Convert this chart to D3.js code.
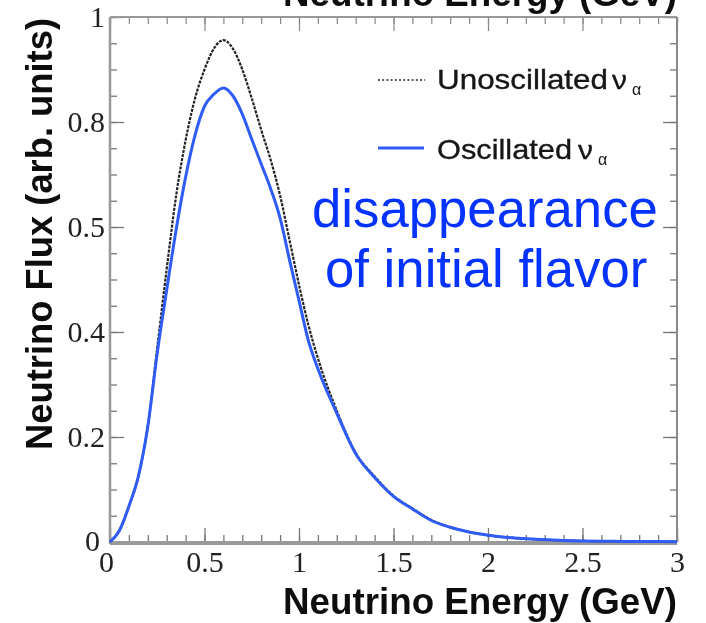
<!DOCTYPE html>
<html>
<head>
<meta charset="utf-8">
<script src="https://cdn.jsdelivr.net/npm/d3@7"></script>
<style>
  html, body { margin: 0; padding: 0; background: #fff; }
  svg { display: block; }
</style>
</head>
<body>
<svg id="chart" width="706" height="623"></svg>
<script>
// Neutrino energy grid (GeV) and flux values (arbitrary units)
const energy = [0, 0.05, 0.1, 0.15, 0.2, 0.25, 0.3, 0.35, 0.4, 0.45, 0.5, 0.55, 0.6, 0.65, 0.7, 0.75, 0.8, 0.85, 0.9, 0.95, 1.0, 1.05, 1.1, 1.2, 1.3, 1.4, 1.5, 1.6, 1.7, 1.8, 1.9, 2.0, 2.2, 2.4, 2.6, 2.8, 3.0];
const unoscillated = [0, 0.022, 0.068, 0.125, 0.22, 0.37, 0.52, 0.66, 0.765, 0.845, 0.9, 0.94, 0.956, 0.94, 0.9, 0.845, 0.785, 0.728, 0.66, 0.575, 0.49, 0.413, 0.35, 0.25, 0.17, 0.125, 0.088, 0.064, 0.042, 0.028, 0.019, 0.013, 0.006, 0.003, 0.0015, 0.001, 0.0005];
const oscillated = [0, 0.022, 0.068, 0.125, 0.22, 0.36, 0.48, 0.595, 0.695, 0.775, 0.83, 0.853, 0.865, 0.85, 0.815, 0.767, 0.72, 0.673, 0.617, 0.537, 0.46, 0.383, 0.33, 0.245, 0.168, 0.123, 0.087, 0.063, 0.041, 0.028, 0.019, 0.013, 0.006, 0.003, 0.0015, 0.001, 0.0005];

// Axis ticks and their printed labels
const xMajorTicks = [0, 0.5, 1, 1.5, 2, 2.5, 3];
const xTickLabels = ["0", "0.5", "1", "1.5", "2", "2.5", "3"];
const yMajorTicks = [0, 0.2, 0.4, 0.6, 0.8, 1];
const yTickLabels = ["0", "0.2", "0.4", "0.5", "0.8", "1"];

const svg = d3.select("#chart");
const frameL = 110, frameR = 677, frameT = 17, frameB = 542;

const x = d3.scaleLinear().domain([0, 3]).range([frameL, frameR]);
const y = d3.scaleLinear().domain([0, 1]).range([frameB, frameT]);

// soft rendering of the plot body
const defs = svg.append("defs");
defs.append("filter").attr("id", "soft")
  .append("feGaussianBlur").attr("stdDeviation", 0.55);

const plot = svg.append("g").attr("filter", "url(#soft)");

// fit helper: scale font size so the text spans a target width
function fitWidth(sel, target) {
  const node = sel.node();
  const fs = parseFloat(sel.attr("font-size"));
  const w = node.getComputedTextLength();
  sel.attr("font-size", fs * target / w);
}

const xMinor = d3.range(0, 3.0001, 0.1).map(v => +v.toFixed(2));
const yMinor = d3.range(0, 1.0001, 0.05).map(v => +v.toFixed(2));
const serif = "'Liberation Serif', 'Times New Roman', serif";
const sans = "'Liberation Sans', Arial, sans-serif";

function styleAxis(g, color, width) {
  g.select(".domain").remove();
  g.selectAll(".tick line").attr("stroke", color).attr("stroke-width", width);
}

// bottom axis: minor, major with labels
plot.append("g").attr("transform", `translate(0,${frameB})`)
  .call(d3.axisBottom(x).tickValues(xMinor).tickSize(-7).tickFormat(""))
  .call(g => styleAxis(g, "#777", 1.3));
const xAx = plot.append("g").attr("transform", `translate(0,${frameB})`)
  .call(d3.axisBottom(x).tickValues(xMajorTicks).tickSize(-14).tickPadding(9)
    .tickFormat((d, i) => xTickLabels[i]))
  .call(g => styleAxis(g, "#777", 1.3));
xAx.selectAll("text").attr("font-family", serif)
  .attr("font-size", 30).attr("fill", "#222");
xAx.selectAll(".tick").filter(d => d === 0).select("text").attr("dx", -4);

// top axis (mirror ticks)
plot.append("g").attr("transform", `translate(0,${frameT})`)
  .call(d3.axisTop(x).tickValues(xMinor).tickSize(-7).tickFormat(""))
  .call(g => styleAxis(g, "#888", 1.2));
plot.append("g").attr("transform", `translate(0,${frameT})`)
  .call(d3.axisTop(x).tickValues(xMajorTicks).tickSize(-14).tickFormat(""))
  .call(g => styleAxis(g, "#888", 1.2));

// left axis
plot.append("g").attr("transform", `translate(${frameL},0)`)
  .call(d3.axisLeft(y).tickValues(yMinor).tickSize(-7).tickFormat(""))
  .call(g => styleAxis(g, "#777", 1.3));
const yAx = plot.append("g").attr("transform", `translate(${frameL},0)`)
  .call(d3.axisLeft(y).tickValues(yMajorTicks).tickSize(-14).tickPadding(5)
    .tickFormat((d, i) => yTickLabels[i]))
  .call(g => styleAxis(g, "#777", 1.3));
yAx.selectAll("text").attr("font-family", serif)
  .attr("font-size", 30).attr("fill", "#222");
yAx.selectAll(".tick").filter(d => d === 0).select("text").attr("dx", -5).attr("dy", "0.28em");

// right axis
plot.append("g").attr("transform", `translate(${frameR},0)`)
  .call(d3.axisRight(y).tickValues(yMinor).tickSize(-7).tickFormat(""))
  .call(g => styleAxis(g, "#777", 1.3));
plot.append("g").attr("transform", `translate(${frameR},0)`)
  .call(d3.axisRight(y).tickValues(yMajorTicks).tickSize(-14).tickFormat(""))
  .call(g => styleAxis(g, "#777", 1.3));

// frame
plot.append("line").attr("x1", frameL).attr("x2", frameR).attr("y1", frameT).attr("y2", frameT)
  .attr("stroke", "#999").attr("stroke-width", 2);
plot.append("line").attr("x1", frameR).attr("x2", frameR).attr("y1", frameT).attr("y2", frameB)
  .attr("stroke", "#888").attr("stroke-width", 2);
plot.append("line").attr("x1", frameL).attr("x2", frameL).attr("y1", frameT).attr("y2", frameB + 2)
  .attr("stroke", "#999").attr("stroke-width", 2.5);
plot.append("line").attr("x1", frameL).attr("x2", frameR).attr("y1", frameB + 1).attr("y2", frameB + 1)
  .attr("stroke", "#9a9a9a").attr("stroke-width", 4);

// flux curves
const line = d3.line().x(d => x(d[0])).y(d => y(d[1])).curve(d3.curveMonotoneX);
const unoscPts = energy.map((e, i) => [e, unoscillated[i]]);
const oscPts = energy.map((e, i) => [e, oscillated[i]]);

plot.append("path").datum(unoscPts).attr("d", line)
  .attr("fill", "none").attr("stroke", "#222").attr("stroke-width", 2.2)
  .attr("stroke-dasharray", "3,1.2");
plot.append("path").datum(oscPts).attr("d", line)
  .attr("fill", "none").attr("stroke", "#2f5cf5").attr("stroke-width", 3);

// legend
plot.append("line").attr("x1", 378).attr("x2", 425).attr("y1", 80).attr("y2", 80)
  .attr("stroke", "#222").attr("stroke-width", 1.6).attr("stroke-dasharray", "2,2.2");
plot.append("line").attr("x1", 378).attr("x2", 424).attr("y1", 148).attr("y2", 148)
  .attr("stroke", "#2f5cf5").attr("stroke-width", 3);

function legendLabel(txt, yPos, mainWidth, nuX) {
  const g = plot.append("g").attr("fill", "#151515").attr("font-family", sans);
  g.append("text").attr("x", 437).attr("y", yPos).attr("font-size", 28)
    .attr("stroke", "#151515").attr("stroke-width", 0.35)
    .attr("textLength", mainWidth).attr("lengthAdjust", "spacingAndGlyphs").text(txt);
  g.append("text").attr("x", nuX).attr("y", yPos).attr("font-size", 26)
    .attr("stroke", "#151515").attr("stroke-width", 0.35)
    .attr("textLength", 15).attr("lengthAdjust", "spacingAndGlyphs").text("ν");
  g.append("text").attr("x", nuX + 20).attr("y", yPos + 6).attr("font-size", 16).text("α");
}
legendLabel("Unoscillated", 89, 171, 612);
legendLabel("Oscillated", 159, 135, 578);

// axis titles
const xTitle = plot.append("text").attr("x", 677).attr("y", 614).attr("text-anchor", "end")
  .attr("font-family", sans).attr("font-weight", "bold")
  .attr("font-size", 28).attr("fill", "#111").text("Neutrino Energy (GeV)");
fitWidth(xTitle, 394);

const topTitle = plot.append("text").attr("x", 677).attr("y", 6).attr("text-anchor", "end")
  .attr("font-family", sans).attr("font-weight", "bold")
  .attr("font-size", 28).attr("fill", "#111").text("Neutrino Energy (GeV)");
fitWidth(topTitle, 394);

const yTitle = plot.append("text")
  .attr("transform", "translate(52,18) rotate(-90)").attr("text-anchor", "end")
  .attr("font-family", sans).attr("font-weight", "bold")
  .attr("font-size", 28).attr("fill", "#111").text("Neutrino Flux (arb. units)");
fitWidth(yTitle, 432);

// annotation
const note1 = svg.append("text").attr("x", 312).attr("y", 227)
  .attr("font-family", sans)
  .attr("font-size", 46).attr("fill", "#0433ff").text("disappearance");
fitWidth(note1, 346);
const note2 = svg.append("text").attr("x", 325).attr("y", 287)
  .attr("font-family", sans)
  .attr("font-size", 46).attr("fill", "#0433ff").text("of initial flavor");
note2.attr("font-size", note1.attr("font-size"));
</script>
</body>
</html>
